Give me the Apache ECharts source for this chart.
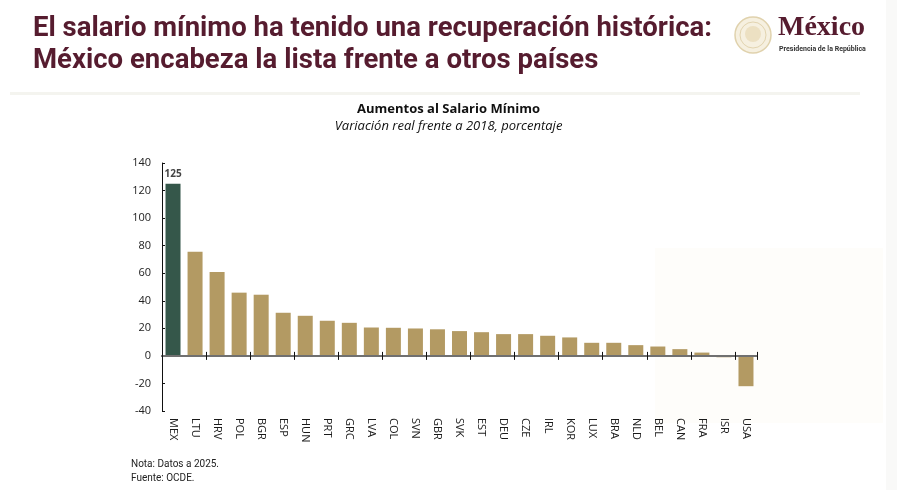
<!DOCTYPE html>
<html>
<head>
<meta charset="utf-8">
<script src="https://cdn.jsdelivr.net/npm/echarts@6/dist/echarts.min.js"></script>
<style>
  html, body { margin: 0; padding: 0; background: #ffffff; }
  #chart { width: 897px; height: 490px; }
</style>
</head>
<body>
<div id="chart"></div>
<script>
// datos (variacion real frente a 2018, %)
const countries = ['MEX', 'LTU', 'HRV', 'POL', 'BGR', 'ESP', 'HUN', 'PRT', 'GRC', 'LVA', 'COL', 'SVN', 'GBR', 'SVK',
  'EST', 'DEU', 'CZE', 'IRL', 'KOR', 'LUX', 'BRA', 'NLD', 'BEL', 'CAN', 'FRA', 'ISR', 'USA']
const increases = [125, 75.6, 60.9, 45.9, 44.4, 31.3, 29.1, 25.5, 24, 20.6, 20.4, 19.9, 19.3, 18.0,
  17.2, 15.8, 15.8, 14.6, 13.4, 9.5, 9.5, 7.8, 6.8, 4.9, 2.4, -1, -22]
const yMin = -40
const yMax = 140
const yStep = 20

const GREEN = '#35574a'
const GOLD = '#b39a63'
const MAROON = '#561c2f'

const TITLE_1 = 'El salario mínimo ha tenido una recuperación histórica:'
const TITLE_2 = 'México encabeza la lista frente a otros países'
const TITLE_FONT = 'bold 27px Roboto, sans-serif'

// el titulo original usa una letra condensada: se comprime el ancho
const measure = (text, font) => {
  const ctx = document.createElement('canvas').getContext('2d')
  ctx.font = font
  return ctx.measureText(text).width
}
const titleScale = 679 / measure(TITLE_1, TITLE_FONT)

const chart = echarts.init(document.getElementById('chart'))

const barData = increases.map((v, i) => {
  const item = { value: v }
  if (countries[i] === 'MEX') {
    item.itemStyle = { color: GREEN }
    item.label = {
      show: true,
      position: 'top',
      distance: 5,
      fontSize: 10,
      fontWeight: 'bold',
      color: '#444',
      fontFamily: 'Open Sans'
    }
  }
  return item
})

const plotRect = { left: 162, right: 140, top: 163, bottom: 79 }

// linea del cero con marcas que la cruzan: un eje hacia arriba (grid 0) y otro hacia abajo (grid 1)
const zeroAxis = (gridIndex, position, lineColor) => ({
  type: 'category',
  data: countries,
  gridIndex: gridIndex,
  position: position,
  z: 5,
  axisLine: { show: true, onZero: true, lineStyle: { color: lineColor, width: 2 } },
  axisTick: { show: true, length: 4, lineStyle: { color: '#111', width: 1 } },
  axisLabel: { show: false },
  splitLine: { show: false }
})

const option = {
  backgroundColor: '#ffffff',
  animation: false,
  grid: [Object.assign({}, plotRect), Object.assign({}, plotRect)],
  graphic: [
    { type: 'rect', shape: { x: 655, y: 248, width: 228, height: 175 }, style: { fill: '#fefdfa' }, z: -1 },
    { type: 'rect', shape: { x: 886, y: 0, width: 11, height: 490 }, style: { fill: '#f9f9f8' }, z: -1 },
    { type: 'rect', shape: { x: 10, y: 92, width: 850, height: 3 }, style: { fill: '#f4f4ef' } },
    {
      type: 'text', x: 33, y: 16, scaleX: titleScale,
      style: { text: TITLE_1, font: TITLE_FONT, fill: MAROON }
    },
    {
      type: 'text', x: 33, y: 48, scaleX: titleScale,
      style: { text: TITLE_2, font: TITLE_FONT, fill: MAROON }
    },
    // escudo
    { type: 'circle', shape: { cx: 753, cy: 35, r: 18 }, style: { fill: '#f6f0e0', stroke: '#e0d2ad', lineWidth: 1.5 } },
    { type: 'circle', shape: { cx: 753, cy: 35, r: 13 }, style: { fill: 'none', stroke: '#e2d4b0', lineWidth: 1 } },
    { type: 'circle', shape: { cx: 753, cy: 34, r: 8 }, style: { fill: '#ece0c2' } },
    {
      type: 'text', x: 778, y: 14,
      style: { text: 'México', font: 'bold 28px "Liberation Serif", "DejaVu Serif", serif', fill: MAROON }
    },
    {
      type: 'text', x: 779, y: 46,
      style: { text: 'Presidencia de la República', font: 'bold 7px Roboto, sans-serif', fill: '#333' }
    },
    {
      type: 'text', left: 'center', top: 103,
      style: {
        text: 'Aumentos al Salario Mínimo',
        font: 'bold 13px "Open Sans", sans-serif',
        fill: '#111'
      }
    },
    {
      type: 'text', left: 'center', top: 120,
      style: {
        text: 'Variación real frente a 2018, porcentaje',
        font: 'italic 13px "Open Sans", sans-serif',
        fill: '#111'
      }
    },
    {
      type: 'text', left: 131, top: 459,
      style: { text: 'Nota: Datos a 2025.', font: '10px Roboto, sans-serif', fill: '#222' }
    },
    {
      type: 'text', left: 131, top: 473,
      style: { text: 'Fuente: OCDE.', font: '10px Roboto, sans-serif', fill: '#222' }
    }
  ],
  xAxis: [
    {
      type: 'category',
      data: countries,
      gridIndex: 0,
      position: 'bottom',
      axisLine: { show: false, onZero: false },
      axisTick: { show: false },
      axisLabel: {
        rotate: -90,
        margin: 7,
        fontSize: 11,
        color: '#1a1a1a',
        fontFamily: 'Open Sans',
        interval: 0
      }
    },
    zeroAxis(0, 'top', '#707070'),
    zeroAxis(1, 'bottom', '#707070')
  ],
  yAxis: [
    {
      type: 'value',
      gridIndex: 0,
      min: yMin,
      max: yMax,
      interval: yStep,
      axisLine: { show: true, onZero: false, lineStyle: { color: '#111', width: 1 } },
      axisTick: { show: true, inside: true, length: 3, lineStyle: { color: '#111' } },
      axisLabel: { margin: 11, fontSize: 11, color: '#222', fontFamily: 'Open Sans' },
      splitLine: { show: false }
    },
    {
      type: 'value',
      gridIndex: 1,
      min: yMin,
      max: yMax,
      interval: yStep,
      show: false,
      splitLine: { show: false }
    }
  ],
  series: [
    {
      type: 'bar',
      xAxisIndex: 0,
      yAxisIndex: 0,
      data: barData,
      barWidth: 15,
      itemStyle: { color: GOLD }
    }
  ]
}

chart.setOption(option)
</script>
</body>
</html>
